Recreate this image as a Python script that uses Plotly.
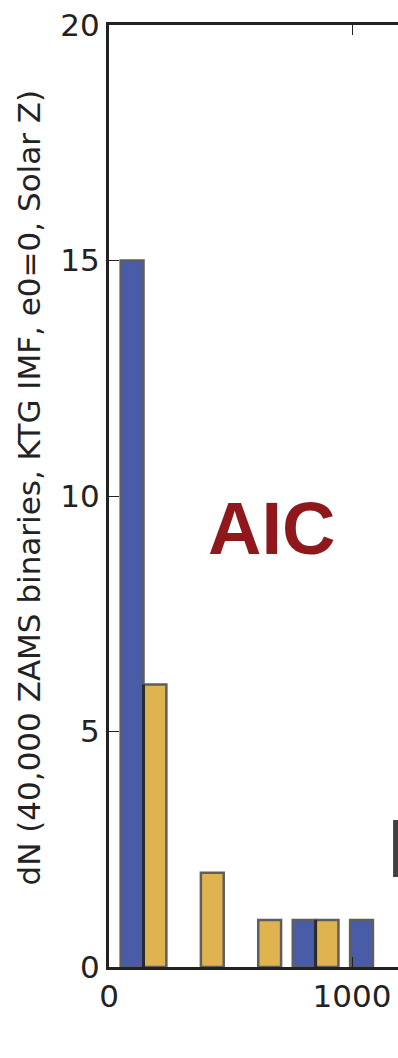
import plotly.graph_objects as go

# ---- data ----
bin_centers = [142, 378, 614, 850, 1086]
blue_counts = [15, 0, 0, 1, 1]
yellow_counts = [6, 2, 1, 1, 0]
y_ticks = [0, 5, 10, 15, 20]
x_ticks = [0, 1000]
bar_w = 94

BLUE = "#4A5CA8"
YELLOW = "#DEB350"
EDGE = "#5e5e5e"
INK = "#222222"

def nz(v):
    return [c if c > 0 else None for c in v]

fig = go.Figure()
fig.add_trace(go.Bar(x=bin_centers, y=nz(blue_counts), width=bar_w, offset=-bar_w,
                     marker=dict(color=BLUE, line=dict(color=EDGE, width=2.5)), showlegend=False))
fig.add_trace(go.Bar(x=bin_centers, y=nz(yellow_counts), width=bar_w, offset=0,
                     marker=dict(color=YELLOW, line=dict(color=EDGE, width=2.5)), showlegend=False))

# dark divider where both bars share an edge
lx, ly = [], []
for c, b, yv in zip(bin_centers, blue_counts, yellow_counts):
    if b > 0 and yv > 0:
        lx += [c, c, None]
        ly += [0, min(b, yv), None]
fig.add_trace(go.Scatter(x=lx, y=ly, mode="lines", line=dict(color="#2a2a2a", width=3),
                         showlegend=False, hoverinfo="skip"))

fig.add_annotation(x=0.564, y=0.466, xref="paper", yref="paper", text="<b>AIC</b>",
                   showarrow=False, font=dict(family="Liberation Sans, Arial", size=74, color="#8E181B"))
fig.add_annotation(x=-0.277, y=0.509, xref="paper", yref="paper", xanchor="center", yanchor="middle",
                   text="dN (40,000 ZAMS binaries, KTG IMF, e0=0, Solar Z)", textangle=-90,
                   showarrow=False, font=dict(family="DejaVu Sans", size=31, color=INK))

fig.add_shape(type="rect", xref="paper", yref="paper", x0=0.983, x1=1.05, y0=0.0955, y1=0.156,
              fillcolor="#404040", line=dict(width=0), layer="above")

fig.update_layout(
    width=398, height=1058,
    margin=dict(l=109, r=0, t=25, b=91),
    plot_bgcolor="white", paper_bgcolor="white",
    barmode="overlay",
    font=dict(family="DejaVu Sans", size=31, color=INK),
    xaxis=dict(range=[0, 1189], tickvals=x_ticks, ticktext=[str(v) for v in x_ticks],
               showline=True, linecolor=INK, linewidth=3, mirror="ticks",
               ticks="inside", ticklen=10, tickwidth=1, tickcolor=INK,
               showgrid=False, zeroline=False, tickfont=dict(size=31)),
    yaxis=dict(range=[0, 20], tickvals=y_ticks, ticktext=[str(v) for v in y_ticks],
               showline=True, linecolor=INK, linewidth=3, mirror=False,
               ticks="inside", ticklen=10, tickwidth=1, tickcolor=INK,
               showgrid=False, zeroline=False, tickfont=dict(size=31)),
)

fig.write_html("out.html")
